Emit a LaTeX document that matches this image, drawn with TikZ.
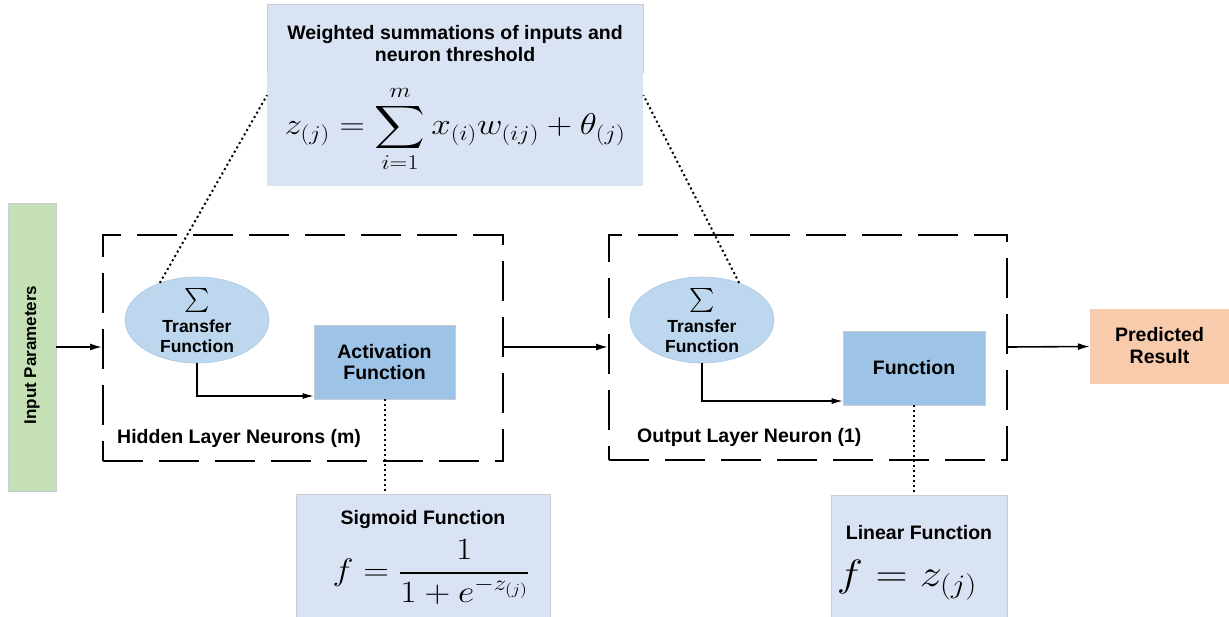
\RequirePackage{fix-cm}
\documentclass[tikz,border=0pt]{standalone}
\usepackage{fontspec}
\setmainfont{Liberation Sans}
\DeclareFontShape{OMX}{cmex}{m}{n}{<-7.5>cmex7<7.5-8.5>cmex8<8.5-9.5>cmex9<9.5->cmex10}{}
\usetikzlibrary{arrows.meta,calc,shapes.geometric}
\definecolor{boxlav}{RGB}{218,227,243}
\definecolor{ellblue}{RGB}{189,215,238}
\definecolor{ellline}{RGB}{170,198,224}
\definecolor{actblue}{RGB}{157,195,230}
\definecolor{ingreen}{RGB}{197,224,180}
\definecolor{predor}{RGB}{248,203,173}
\definecolor{edgegray}{RGB}{200,205,212}
\begin{document}
\begin{tikzpicture}[x=1pt,y=-1pt,
  lbl/.style={font=\fontsize{19.5}{22}\selectfont\bfseries, align=center, inner sep=0pt},
  tlbl/.style={font=\fontsize{17.5}{20}\selectfont\bfseries, align=center, inner sep=0pt},
  fbox/.style={fill=boxlav, draw=none, inner sep=0pt, anchor=north west},
  ellnode/.style={ellipse, fill=ellblue, draw=ellline, line width=0.6pt, minimum width=144pt, minimum height=86pt, inner sep=0pt},
  fnbox/.style={fill=actblue, draw=edgegray, line width=0.6pt, inner sep=0pt},
  layerbox/.style={draw=black, line width=2pt, dash pattern=on 40pt off 16pt, inner sep=0pt, anchor=north west},
  arr/.style={-{Latex[length=12pt,width=7pt]}, line width=1.6pt},
  thinarr/.style={-{Latex[length=11pt,width=6pt]}, line width=1.2pt},
  dots/.style={line width=2pt, dash pattern=on 2pt off 3pt}
]
\useasboundingbox (0,0) rectangle (1229,616);

% top formula box
\node[fbox, minimum width=376pt, minimum height=182pt] (top) at (267,4) {};
\draw[edgegray, line width=0.8pt] ($(top.north west)+(0,69)$) -- (top.north west) -- (top.north east) -- ($(top.north east)+(0,69)$);
\node[lbl] (toptitle) at (455,44) {Weighted summations of inputs and\\neuron threshold};
\node[inner sep=0pt, font=\fontsize{30}{34}\selectfont] (topform) at (455,129)
  {\scalebox{1.17}[1]{$\displaystyle z_{(j)} = \sum_{i=1}^{m} x_{(i)} w_{(ij)} + \theta_{(j)}$}};

% input
\node[fill=ingreen, draw=edgegray, line width=0.6pt, minimum width=48pt, minimum height=288pt, inner sep=0pt] (input) at (32,347) {};
\node[rotate=90, font=\fontsize{17}{20}\selectfont\bfseries, inner sep=0pt] (inputt) at (32,355) {Input Parameters};

% hidden layer
\node[layerbox, minimum width=400pt, minimum height=226pt] (hidden) at (102,234) {};
\node[ellnode] (e1) at (197,320) {};
\node[tlbl] (e1s) at (197,300) {\fontsize{24}{24}\selectfont$\sum$};
\node[tlbl] (e1t) at (197,336) {Transfer\\Function};
\node[fnbox, minimum width=141pt, minimum height=74pt] (act) at (384.5,362) {};
\node[lbl, font=\fontsize{19.5}{21}\selectfont\bfseries] (actt) at (384.5,362) {Activation\\Function};
\node[lbl, anchor=west] (hiddent) at (117,438) {Hidden Layer Neurons (m)};

% output layer
\node[layerbox, minimum width=398pt, minimum height=225pt] (outl) at (608,234) {};
\node[ellnode] (e2) at (702,320) {};
\node[tlbl] (e2s) at (702,300) {\fontsize{24}{24}\selectfont$\sum$};
\node[tlbl] (e2t) at (702,336) {Transfer\\Function};
\node[fnbox, minimum width=142pt, minimum height=74pt] (fun) at (914,368) {};
\node[lbl] (funt) at (914,368) {Function};
\node[lbl, anchor=west] (outt) at (637,437) {Output Layer Neuron (1)};

% predicted
\node[fill=predor, draw=none, minimum width=139pt, minimum height=75pt, inner sep=0pt] (pred) at (1159.5,346.5) {};
\node[lbl] (predt) at (1159.5,346) {Predicted\\Result};

% sigmoid box
\node[fbox, draw=edgegray, line width=0.6pt, minimum width=254pt, minimum height=124pt] (sig) at (296,494) {};
\node[lbl] (sigt) at (423,519) {Sigmoid Function};
\node[inner sep=0pt, font=\fontsize{31}{34}\selectfont] (sigf) at (431,572)
  {\scalebox{1.15}[1]{$\displaystyle f = \frac{1}{1+e^{-z_{(j)}}}$}};

% linear box
\node[fbox, draw=edgegray, line width=0.6pt, minimum width=176pt, minimum height=124pt] (lin) at (831,495) {};
\node[lbl] (lint) at (919,533) {Linear Function};
\node[inner sep=0pt, font=\fontsize{38}{42}\selectfont] (linf) at (907,580) {\scalebox{1.17}[1]{$f = z_{(j)}$}};

% connectors
\draw[arr] (input.east |- 0,347) -- (hidden.west |- 0,347);
\draw[arr] (hidden.east |- 0,347) -- (outl.west |- 0,347);
\draw[arr] (outl.east |- 0,347) -- (pred.west);
\draw[thinarr] (e1.south) |- (act.west |- 0,396);
\draw[thinarr] (e2.south) |- (fun.west |- 0,401);

% dotted
\draw[dots] (e1.135) -- (top.west);
\draw[dots] (e2.45) -- (top.east);
\draw[dots] (act.south) -- (act.south |- sig.north);
\draw[dots] (fun.south) -- (fun.south |- lin.north);
\end{tikzpicture}
\end{document}
